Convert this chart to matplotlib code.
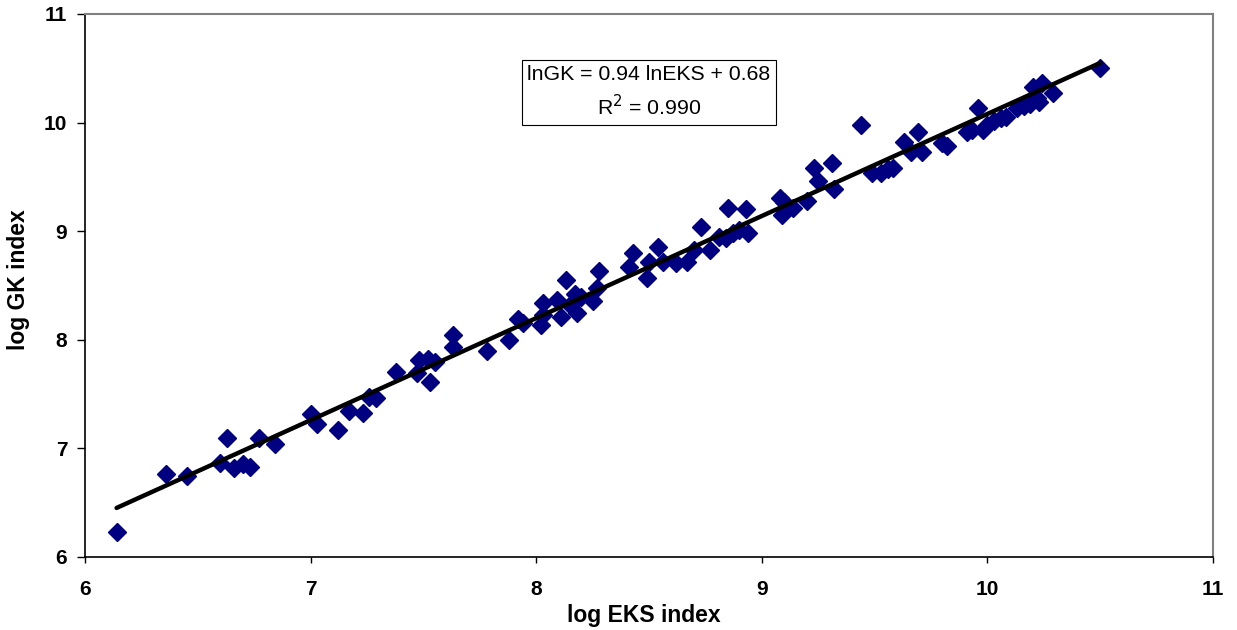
import numpy as np
import matplotlib
matplotlib.use("Agg")
import matplotlib.pyplot as plt

plt.rcParams["font.family"] = ["Liberation Sans", "DejaVu Sans"]

# log EKS index vs log GK index
log_eks = [
    6.14, 6.36, 6.45, 6.60, 6.63, 6.66, 6.70, 6.73, 6.77, 6.84,
    7.00, 7.03, 7.12, 7.17, 7.23, 7.26, 7.29, 7.38, 7.47, 7.48,
    7.52, 7.53, 7.55, 7.63, 7.63, 7.78, 7.88, 7.92, 7.94, 8.02,
    8.03, 8.03, 8.09, 8.11, 8.13, 8.15, 8.17, 8.18, 8.20, 8.25,
    8.27, 8.28, 8.41, 8.43, 8.49, 8.50, 8.54, 8.56, 8.62, 8.67,
    8.70, 8.73, 8.77, 8.81, 8.85, 8.87, 8.93, 8.94, 8.84, 8.90,
    9.08, 9.09, 9.10, 9.14, 9.20, 9.23, 9.25, 9.31, 9.32, 9.44,
    9.49, 9.53, 9.56, 9.58, 9.63, 9.66, 9.69, 9.71, 9.80, 9.82,
    9.91, 9.93, 9.96, 9.98, 10.00, 10.03, 10.06, 10.08, 10.13, 10.16,
    10.19, 10.20, 10.22, 10.24, 10.23, 10.29, 10.50,
]
log_gk = [
    6.23, 6.76, 6.75, 6.87, 7.10, 6.82, 6.86, 6.83, 7.10, 7.04,
    7.32, 7.22, 7.17, 7.34, 7.33, 7.47, 7.46, 7.70, 7.69, 7.81,
    7.82, 7.61, 7.80, 7.93, 8.04, 7.90, 8.00, 8.19, 8.15, 8.14,
    8.23, 8.34, 8.37, 8.21, 8.55, 8.32, 8.42, 8.25, 8.39, 8.36,
    8.48, 8.63, 8.67, 8.80, 8.57, 8.72, 8.85, 8.72, 8.71, 8.72,
    8.83, 9.04, 8.83, 8.95, 9.21, 8.98, 9.20, 8.98, 8.94, 9.01,
    9.31, 9.15, 9.27, 9.21, 9.28, 9.58, 9.46, 9.63, 9.39, 9.98,
    9.54, 9.54, 9.57, 9.58, 9.82, 9.73, 9.91, 9.73, 9.81, 9.78,
    9.91, 9.93, 10.13, 9.93, 9.98, 10.01, 10.04, 10.05, 10.13, 10.15,
    10.17, 10.33, 10.23, 10.36, 10.19, 10.27, 10.50,
]

slope = 0.94
intercept = 0.68
r_squared = "0.990"

fig = plt.figure(figsize=(12.37, 6.30), dpi=100)
ax = fig.add_axes([0.0687, 0.1159, 0.912, 0.8619])

ax.plot(log_eks, log_gk, linestyle="none", marker="D", markersize=9,
        color="#000080", zorder=2)

x_fit = np.array([min(log_eks), max(log_eks)])
ax.plot(x_fit, slope * x_fit + intercept, color="black", linewidth=3.2,
        solid_capstyle="round", zorder=3)

ax.set_xlim(6, 11)
ax.set_ylim(6, 11)
ax.set_xticks(range(6, 12))
ax.set_yticks(range(6, 12))
# tick length / pad are in points (100 dpi -> 1 px = 0.72 pt)
ax.tick_params(axis="x", direction="out", length=4.3, width=1, labelsize=15, pad=12)
ax.tick_params(axis="y", direction="out", length=5.8, width=1, labelsize=15, pad=7)
for lbl in ax.get_xticklabels() + ax.get_yticklabels():
    lbl.set_fontweight("bold")

for side in ("top", "right"):
    ax.spines[side].set_color("#808080")
    ax.spines[side].set_linewidth(1.5)
for side in ("left", "bottom"):
    ax.spines[side].set_color("black")
    ax.spines[side].set_linewidth(1.2)

ax.set_xlabel("log EKS index", fontsize=16.5, fontweight="bold")
ax.set_ylabel("log GK index", fontsize=16.5, fontweight="bold", va="center")
ax.xaxis.set_label_coords(0.495, -0.087)
ax.yaxis.set_label_coords(-0.0585, 0.51)

ax.text(8.5, 10.28,
        "lnGK = %.2f lnEKS + %.2f\nR$^2$ = %s" % (slope, intercept, r_squared),
        ha="center", va="center", fontsize=15.3, linespacing=1.45,
        bbox=dict(boxstyle="square,pad=0.26", facecolor="white",
                  edgecolor="black", linewidth=0.8))

fig.savefig("out.png", dpi=100)
